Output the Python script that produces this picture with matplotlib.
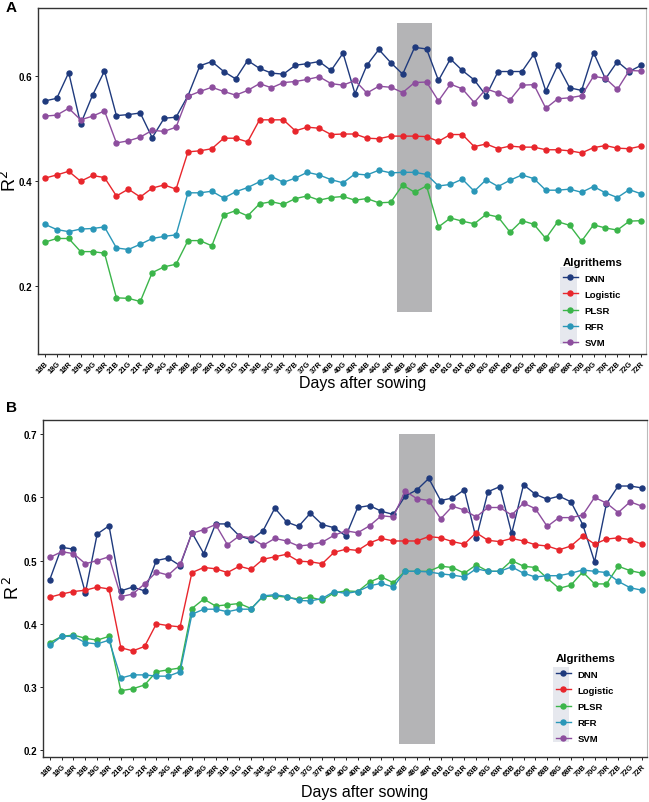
import matplotlib
matplotlib.use("Agg")
import matplotlib.pyplot as plt
from matplotlib.patches import Rectangle
from matplotlib.lines import Line2D

plt.rcParams['font.family'] = ['Liberation Sans', 'DejaVu Sans']

days = ["18", "19", "21", "24", "28", "31", "34", "37", "40", "44", "48",
        "61", "63", "65", "68", "70", "72"]
bands = ["B", "G", "R"]
labels = [d + b for d in days for b in bands]

algorithms = ["DNN", "Logistic", "PLSR", "RFR", "SVM"]
colors = {"DNN": "#1f3a7d", "Logistic": "#e8262c", "PLSR": "#3bb54a",
          "RFR": "#2a97b8", "SVM": "#8d4e9e"}

# Panel A
a_dnn = [0.552, 0.557, 0.606, 0.508, 0.563, 0.609, 0.524, 0.526, 0.529, 0.482,
         0.519, 0.521, 0.562, 0.619, 0.627, 0.608, 0.594, 0.629, 0.614, 0.605,
         0.603, 0.620, 0.623, 0.627, 0.610, 0.643, 0.566, 0.620, 0.650, 0.625,
         0.603, 0.654, 0.651, 0.591, 0.632, 0.610, 0.592, 0.562, 0.608, 0.608,
         0.608, 0.641, 0.571, 0.620, 0.577, 0.572, 0.644, 0.594, 0.627, 0.608,
         0.620]
a_logistic = [0.405, 0.411, 0.418, 0.399, 0.410, 0.406, 0.371, 0.384, 0.369, 0.386,
              0.392, 0.384, 0.455, 0.457, 0.461, 0.481, 0.481, 0.474, 0.516, 0.516,
              0.516, 0.495, 0.502, 0.500, 0.488, 0.489, 0.489, 0.481, 0.480, 0.485,
              0.485, 0.485, 0.484, 0.475, 0.488, 0.488, 0.465, 0.470, 0.461, 0.466,
              0.464, 0.464, 0.459, 0.459, 0.457, 0.453, 0.463, 0.467, 0.462, 0.461,
              0.466]
a_plsr = [0.283, 0.290, 0.290, 0.265, 0.265, 0.262, 0.177, 0.176, 0.170, 0.225,
          0.236, 0.241, 0.286, 0.286, 0.276, 0.335, 0.343, 0.333, 0.356, 0.360,
          0.355, 0.366, 0.371, 0.363, 0.368, 0.370, 0.363, 0.366, 0.358, 0.359,
          0.392, 0.378, 0.390, 0.312, 0.329, 0.323, 0.318, 0.336, 0.331, 0.302,
          0.324, 0.317, 0.290, 0.322, 0.315, 0.285, 0.316, 0.310, 0.306, 0.323,
          0.324]
a_rfr = [0.317, 0.307, 0.303, 0.308, 0.309, 0.312, 0.272, 0.269, 0.279, 0.290,
         0.294, 0.297, 0.377, 0.377, 0.380, 0.367, 0.379, 0.387, 0.398, 0.408,
         0.397, 0.405, 0.416, 0.411, 0.402, 0.396, 0.413, 0.411, 0.420, 0.415,
         0.416, 0.416, 0.412, 0.390, 0.393, 0.403, 0.380, 0.402, 0.389, 0.401,
         0.411, 0.404, 0.382, 0.382, 0.384, 0.378, 0.389, 0.377, 0.368, 0.383,
         0.375]
a_svm = [0.523, 0.525, 0.538, 0.516, 0.523, 0.533, 0.472, 0.476, 0.483, 0.496,
         0.494, 0.502, 0.561, 0.570, 0.578, 0.570, 0.563, 0.572, 0.585, 0.577,
         0.587, 0.589, 0.593, 0.598, 0.585, 0.582, 0.591, 0.567, 0.580, 0.578,
         0.568, 0.587, 0.588, 0.552, 0.584, 0.575, 0.549, 0.575, 0.567, 0.554,
         0.582, 0.583, 0.538, 0.556, 0.558, 0.562, 0.599, 0.595, 0.574, 0.610,
         0.609]

# Panel B
b_dnn = [0.470, 0.521, 0.518, 0.449, 0.542, 0.555, 0.452, 0.458, 0.452, 0.500,
         0.504, 0.492, 0.544, 0.511, 0.558, 0.558, 0.539, 0.533, 0.547, 0.583,
         0.561, 0.554, 0.575, 0.557, 0.552, 0.539, 0.584, 0.587, 0.578, 0.573,
         0.602, 0.612, 0.630, 0.595, 0.599, 0.612, 0.535, 0.609, 0.617, 0.543,
         0.620, 0.605, 0.597, 0.602, 0.593, 0.557, 0.498, 0.590, 0.618, 0.618,
         0.615]
b_logistic = [0.442, 0.447, 0.451, 0.453, 0.458, 0.455, 0.362, 0.357, 0.364, 0.400,
              0.397, 0.395, 0.481, 0.489, 0.487, 0.481, 0.491, 0.486, 0.502, 0.506,
              0.510, 0.499, 0.498, 0.495, 0.513, 0.518, 0.516, 0.528, 0.535, 0.531,
              0.531, 0.531, 0.538, 0.536, 0.530, 0.526, 0.544, 0.532, 0.530, 0.535,
              0.531, 0.525, 0.523, 0.517, 0.523, 0.539, 0.526, 0.534, 0.536, 0.533,
              0.526]
b_plsr = [0.370, 0.380, 0.382, 0.377, 0.374, 0.380, 0.294, 0.297, 0.303, 0.324,
          0.327, 0.330, 0.424, 0.439, 0.428, 0.430, 0.432, 0.424, 0.443, 0.444,
          0.442, 0.439, 0.442, 0.437, 0.449, 0.452, 0.451, 0.466, 0.474, 0.465,
          0.483, 0.483, 0.483, 0.491, 0.489, 0.480, 0.493, 0.483, 0.483, 0.500,
          0.491, 0.489, 0.472, 0.456, 0.461, 0.482, 0.463, 0.463, 0.491, 0.484,
          0.480]
b_rfr = [0.366, 0.380, 0.380, 0.370, 0.368, 0.374, 0.314, 0.319, 0.319, 0.317,
         0.317, 0.324, 0.415, 0.423, 0.423, 0.419, 0.423, 0.423, 0.444, 0.446,
         0.443, 0.437, 0.436, 0.440, 0.451, 0.448, 0.451, 0.460, 0.464, 0.458,
         0.483, 0.483, 0.482, 0.479, 0.477, 0.474, 0.487, 0.483, 0.483, 0.490,
         0.480, 0.474, 0.476, 0.476, 0.480, 0.485, 0.483, 0.481, 0.467, 0.457,
         0.453]
b_svm = [0.505, 0.514, 0.511, 0.495, 0.500, 0.506, 0.443, 0.447, 0.463, 0.482,
         0.477, 0.494, 0.543, 0.549, 0.557, 0.525, 0.539, 0.536, 0.524, 0.535,
         0.531, 0.523, 0.525, 0.529, 0.540, 0.547, 0.544, 0.555, 0.571, 0.569,
         0.610, 0.598, 0.595, 0.566, 0.586, 0.580, 0.569, 0.584, 0.584, 0.572,
         0.591, 0.582, 0.554, 0.568, 0.568, 0.572, 0.600, 0.591, 0.576, 0.593,
         0.586]

series_a = {"DNN": a_dnn, "Logistic": a_logistic, "PLSR": a_plsr, "RFR": a_rfr, "SVM": a_svm}
series_b = {"DNN": b_dnn, "Logistic": b_logistic, "PLSR": b_plsr, "RFR": b_rfr, "SVM": b_svm}

highlight = ("48B", "48R")

W, H = 649, 803
fig = plt.figure(figsize=(W / 100, H / 100), dpi=100)


def fx(px):
    return px / W


def fy(py):
    return 1 - py / H


def panel(rect_px, data, ylim, yticks, rect_y, legend_px, key_px, letter, letter_px,
          xlabel_py, ylabel, ylabel_px):
    x0, y0, x1, y1 = rect_px
    ax = fig.add_axes([fx(x0), fy(y1), fx(x1) - fx(x0), fy(y0) - fy(y1)])
    xs = list(range(len(labels)))
    i0 = labels.index(highlight[0])
    i1 = labels.index(highlight[1])
    ax.add_patch(Rectangle((i0 - 0.5, rect_y[0]), i1 - i0 + 1, rect_y[1] - rect_y[0],
                           facecolor="#b4b4b6", edgecolor="none", zorder=1))
    for alg in algorithms:
        ax.plot(xs, data[alg], color=colors[alg], lw=1.0, marker="o", ms=3.6,
                zorder=3, label=alg)
    ax.set_xlim(-0.55, len(labels) - 0.6)
    ax.set_ylim(*ylim)
    ax.set_yticks(yticks)
    ax.set_yticklabels([f"{t:.1f}" for t in yticks], fontsize=7, fontweight="bold")
    ax.set_xticks(xs)
    ax.set_xticklabels(labels, rotation=45, ha="right", rotation_mode="anchor",
                       fontsize=5.4, fontweight="bold")
    ax.tick_params(axis="x", length=2.5, width=0.6, pad=1.5)
    ax.tick_params(axis="y", length=2.5, width=0.6, pad=2)
    for name, s in ax.spines.items():
        s.set_linewidth(1.0)
        s.set_color("#333333")
    ax.spines["right"].set_color("#bbbbbb")
    ax.spines["right"].set_linewidth(0.8)
    fig.text(fx((x0 + x1) / 2 + 20), fy(xlabel_py), "Days after sowing", ha="center",
             va="center", fontsize=11.5)
    fig.text(fx(ylabel_px[0]), fy(ylabel_px[1]), ylabel, rotation=90, ha="center",
             va="center", fontsize=13)
    fig.text(fx(letter_px[0]), fy(letter_px[1]), letter, fontsize=11, fontweight="bold",
             ha="left", va="center")
    # legend key background
    kx0, ky0, kx1, ky1 = key_px
    bg = Rectangle((fx(kx0), fy(ky1)), fx(kx1) - fx(kx0), fy(ky0) - fy(ky1),
                   transform=fig.transFigure, facecolor="#e6e8ee",
                   edgecolor="none", zorder=5)
    fig.add_artist(bg)
    handles = [Line2D([], [], color=colors[a], lw=1.0, marker="o", ms=3.6) for a in algorithms]
    leg = fig.legend(handles, algorithms, loc="upper left",
                     bbox_to_anchor=(fx(legend_px[0]), fy(legend_px[1])),
                     frameon=False, title="Algrithems", fontsize=6.8,
                     title_fontproperties={"weight": "bold", "size": 8.2},
                     handlelength=1.6, handletextpad=0.7, labelspacing=0.75,
                     alignment="left", borderpad=0.2)
    leg.set_zorder(6)
    for t in leg.get_texts():
        t.set_fontweight("bold")
    return ax


panel((38.3, 9, 646, 355), series_a, (0.07, 0.729), [0.2, 0.4, 0.6], (0.15, 0.70),
      (556, 251), (560, 268, 577, 345), "A", (6, 8), 384, "R$^{2}$", (10, 181))
panel((43.3, 420.7, 646.7, 758), series_b, (0.189, 0.723), [0.2, 0.3, 0.4, 0.5, 0.6, 0.7],
      (0.21, 0.70), (549, 647), (553, 668, 569, 743), "B", (6, 408), 793,
      "R$^{\\,2}$", (13, 588))

fig.savefig("out.png", dpi=100)
